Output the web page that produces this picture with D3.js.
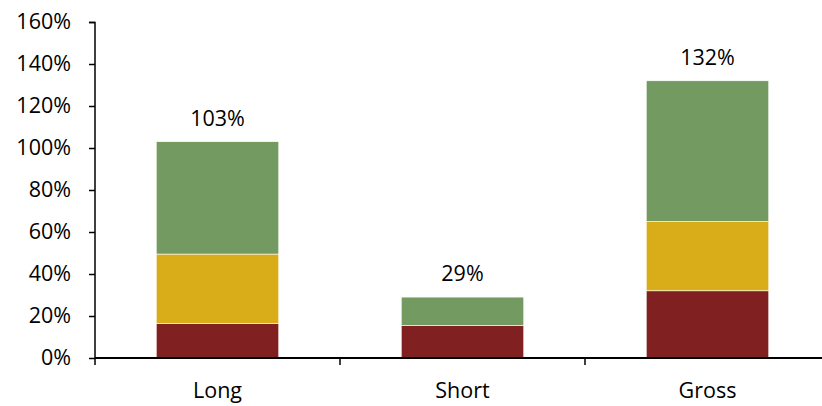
<!DOCTYPE html>
<html>
<head>
<meta charset="utf-8">
<script src="https://cdn.jsdelivr.net/npm/d3@7"></script>
<style>
  body { margin: 0; background: #fff; }
  svg text { font-family: "Open Sans", sans-serif; fill: #000; }
</style>
</head>
<body>
<svg id="chart" width="822" height="406"></svg>
<script>
// data (percent)
const categories = ["Long", "Short", "Gross"];
const seriesKeys = ["red", "yellow", "green"];
const redValues = [16.5, 15.5, 32];
const yellowValues = [33, 0, 33];
const greenValues = [53.5, 13.5, 67];
const totalLabels = ["103%", "29%", "132%"];
const yTicks = [0, 20, 40, 60, 80, 100, 120, 140, 160];

const colors = { red: "#802020", yellow: "#D9AD19", green: "#739A61" };

const rows = categories.map((c, i) => ({
	cat: c,
	red: redValues[i],
	yellow: yellowValues[i],
	green: greenValues[i],
	label: totalLabels[i],
}));

const margin = { top: 22, right: -8, bottom: 48, left: 95 };
const width = 822 - margin.left - margin.right;
const height = 406 - margin.top - margin.bottom;
const fontSize = "21.5px";

const svg = d3.select("#chart")
	.append("g")
	.attr("transform", `translate(${margin.left}, ${margin.top})`);

const x = d3.scaleBand()
	.domain(categories)
	.range([0, width])
	.paddingInner(0.5)
	.paddingOuter(0.25);

const y = d3.scaleLinear().domain([0, 160]).range([height, 0]);

const stack = d3.stack().keys(seriesKeys)(rows);

// bars
svg.selectAll("g.layer")
	.data(stack)
	.enter()
	.append("g")
	.attr("class", "layer")
	.attr("fill", (d) => colors[d.key])
	.selectAll("rect")
	.data((d) => d)
	.enter()
	.append("rect")
	.attr("x", (d) => x(d.data.cat))
	.attr("y", (d) => y(d[1]))
	.attr("width", x.bandwidth())
	.attr("height", (d) => y(d[0]) - y(d[1]))
	.attr("stroke", "#fff")
	.attr("stroke-width", 0.6);

// total labels
svg.selectAll("text.total")
	.data(rows)
	.enter()
	.append("text")
	.attr("class", "total")
	.attr("x", (d) => x(d.cat) + x.bandwidth() / 2)
	.attr("y", (d) => y(d.red + d.yellow + d.green) - 16)
	.attr("text-anchor", "middle")
	.style("font-size", fontSize)
	.text((d) => d.label);

// y axis
const yAxis = svg.append("g")
	.call(d3.axisLeft(y)
		.tickValues(yTicks)
		.tickSize(6)
		.tickPadding(18)
		.tickFormat((d) => `${d}%`));
yAxis.selectAll("text").style("font-size", fontSize);
yAxis.selectAll("line, path").attr("stroke", "#000").attr("stroke-width", 1.5);
yAxis.select(".domain").attr("d", `M-6,0.5H0V${height}`);

// x axis
const xAxis = svg.append("g")
	.attr("transform", `translate(0, ${height})`)
	.call(d3.axisBottom(x).tickSize(0).tickPadding(25));
xAxis.selectAll("text").style("font-size", fontSize);
xAxis.select(".domain").attr("stroke", "#000").attr("stroke-width", 2)
	.attr("d", `M0,0H${width}`);

// boundary ticks between categories
const bounds = categories.map((c) => x(c) - x.step() * 0.25).concat([x(categories[2]) + x.step() * 0.75]);
svg.append("g")
	.attr("transform", `translate(0, ${height})`)
	.selectAll("line")
	.data(bounds)
	.enter()
	.append("line")
	.attr("x1", (d) => d)
	.attr("x2", (d) => d)
	.attr("y1", 0)
	.attr("y2", 7)
	.attr("stroke", "#000")
	.attr("stroke-width", 1.5);
</script>
</body>
</html>
